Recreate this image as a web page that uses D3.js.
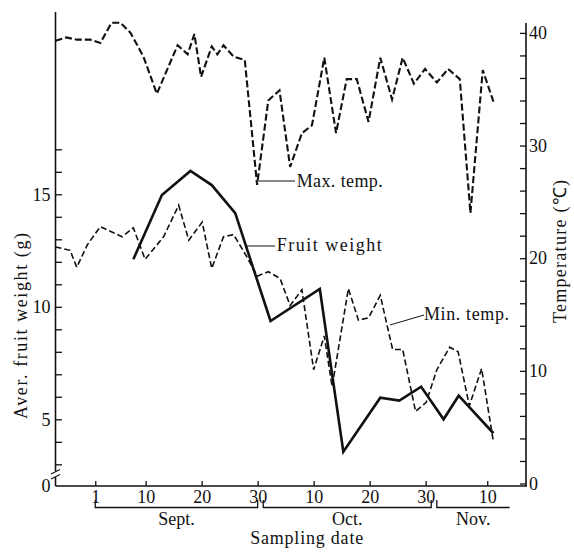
<!DOCTYPE html>
<html>
<head>
<meta charset="utf-8">
<script src="https://cdn.jsdelivr.net/npm/d3@7"></script>
<style>
  html, body { margin: 0; padding: 0; background: #fff; }
  svg { display: block; }
</style>
</head>
<body>
<svg id="chart" width="574" height="553"></svg>
<script>
// ---- data (day numbers: Sept 1 = 1, Oct 1 = 31, Nov 1 = 62) ----
const maxDays = [-6.1,-4.2,-2.3,0.1,1.9,3.9,5.5,7.3,9.6,12.0,15.7,17.5,18.7,19.9,21.8,22.8,23.9,25.7,27.7,29.9,31.9,33.9,35.8,37.9,39.7,41.9,44.0,45.9,47.7,49.8,51.9,54.0,55.9,57.9,59.9,62.0,64.0,66.1,68.0,70.2,72.1];
const maxTemp = [39.3,39.6,39.4,39.4,39.1,40.9,40.9,40.0,37.9,34.6,38.9,38.1,39.9,36.1,38.8,38.1,38.9,37.9,37.6,26.5,34.0,34.9,28.1,31.1,31.8,37.8,31.1,35.9,35.9,32.1,37.8,34.1,37.8,35.5,36.8,35.6,36.8,35.9,24.0,36.7,33.9];

const minDays = [-6.1,-3.5,-2.3,-0.4,1.9,5.8,7.8,9.9,13.2,15.9,17.7,20.1,21.8,23.9,25.7,28.1,29.9,31.9,34.0,35.8,37.9,40.0,41.9,43.3,46.2,48.0,49.8,51.9,54.1,55.9,58.2,60.1,62.0,64.3,65.8,67.8,70.0,72.1];
const minTemp = [21.0,20.7,19.2,21.2,22.8,21.9,22.7,19.9,21.9,24.7,21.6,23.2,19.1,21.9,22.1,20.1,18.4,18.8,18.2,15.8,17.2,10.1,13.1,8.6,17.3,14.5,14.7,16.7,11.9,11.9,6.4,7.2,10.1,12.1,11.7,6.9,10.2,3.7];

const fwDays = [7.8,12.9,18.0,21.8,26.0,32.3,41.1,45.3,51.9,55.3,59.2,63.2,65.9,72.1];
const fruitWeight = [12.11,14.97,16.04,15.41,14.16,9.37,10.79,3.56,5.96,5.83,6.45,5.00,6.05,4.38];

const xTickDays = [1,10,20,30,40,50,60,71];
const xTickLabels = ["1","10","20","30","10","20","30","10"];
const months = ["Sept.","Oct.","Nov."];
const monthStart = [1,31,62];
const monthEnd = [30,61,75];

const weightTicks = [0,3,4,5,6,7,8,9,10,11,12,13,14,15,16,17];
const weightLabels = [0,5,10,15];
const tempTicks = d3.range(0,41,2);
const tempLabels = [0,10,20,30,40];

// ---- layout ----
const svg = d3.select("#chart");
const FONT = "'Liberation Serif','Times New Roman',serif";
const FS = 18;
const INK = "#111";

const x = d3.scaleLinear().domain([-6.1, 78.1]).range([55.5, 527]);
// broken weight axis: 0 sits at the baseline, 3..17 is linear
const yW = d3.scaleLinear().domain([0, 3, 17]).range([486, 464.3, 149.3]);
const yT = d3.scaleLinear().domain([0, 40]).range([483.5, 32.9]);

// ---- axes ----
const gL = svg.append("g").attr("transform", "translate(55.5,0)")
  .call(d3.axisLeft(yW).tickValues(weightTicks).tickSizeInner(-6.5).tickSizeOuter(0).tickPadding(5)
    .tickFormat(d => weightLabels.includes(d) ? d : ""));
gL.select(".domain").remove();
gL.selectAll(".tick").filter(d => d === 0).select("line").remove();

const gR = svg.append("g").attr("transform", "translate(526,0)")
  .call(d3.axisRight(yT).tickValues(tempTicks).tickSizeInner(-6).tickSizeOuter(0).tickPadding(3)
    .tickFormat(d => tempLabels.includes(d) ? d : ""));
gR.select(".domain").remove();

const gB = svg.append("g").attr("transform", "translate(0,486)")
  .call(d3.axisBottom(x).tickValues(xTickDays).tickSizeInner(-5).tickSizeOuter(0).tickPadding(4)
    .tickFormat((d, i) => xTickLabels[i]));
gB.select(".domain").remove();

[gL, gR, gB].forEach(g => {
  g.attr("font-family", FONT).attr("font-size", FS);
  g.selectAll("line").attr("stroke", INK).attr("stroke-width", 1.3);
  g.selectAll("text").attr("fill", INK);
});

// axis lines
const axes = svg.append("g").attr("stroke", INK).attr("stroke-width", 1.6).attr("fill", "none");
axes.append("line").attr("x1", 55.5).attr("x2", 55.5).attr("y1", 12).attr("y2", 471);
axes.append("line").attr("x1", 55.5).attr("x2", 55.5).attr("y1", 477).attr("y2", 486);
axes.append("line").attr("x1", 526).attr("x2", 526).attr("y1", 23).attr("y2", 486);
axes.append("line").attr("x1", 55.5).attr("x2", 527).attr("y1", 486).attr("y2", 486);
// break marks
axes.append("line").attr("x1", 51).attr("x2", 60).attr("y1", 474).attr("y2", 469.5).attr("stroke-width", 1.2);
axes.append("line").attr("x1", 51).attr("x2", 60).attr("y1", 479).attr("y2", 474.5).attr("stroke-width", 1.2);

// month brackets
const br = svg.append("g").attr("stroke", INK).attr("stroke-width", 1.3).attr("fill", "none");
months.forEach((m, i) => {
  const a = x(monthStart[i]), b = x(monthEnd[i]);
  const endTick = i < months.length - 1 ? `V500` : "";
  br.append("path").attr("d", `M${a},500V507.5H${b}${endTick}`);
  svg.append("text").attr("x", (a + b) / 2).attr("y", 525)
    .attr("text-anchor", "middle").attr("font-family", FONT).attr("font-size", FS)
    .attr("fill", INK).text(m);
});

// axis titles
svg.append("text").attr("x", 306.7).attr("y", 543.5).attr("text-anchor", "middle")
  .attr("font-family", FONT).attr("font-size", FS).attr("fill", INK)
  .attr("textLength", 113).attr("lengthAdjust", "spacing").text("Sampling date");
svg.append("text").attr("transform", "translate(26.5,326) rotate(-90)").attr("text-anchor", "middle")
  .attr("font-family", FONT).attr("font-size", FS).attr("fill", INK)
  .attr("textLength", 186).attr("lengthAdjust", "spacing").text("Aver. fruit weight (g)");
svg.append("text").attr("transform", "translate(566,251.5) rotate(-90)").attr("text-anchor", "middle")
  .attr("font-family", FONT).attr("font-size", FS).attr("fill", INK)
  .attr("textLength", 143).attr("lengthAdjust", "spacing").text("Temperature (℃)");

// ---- series ----
const lineT = d3.line().x(d => x(d[0])).y(d => yT(d[1]));
const lineW = d3.line().x(d => x(d[0])).y(d => yW(d[1]));

svg.append("path").datum(maxDays.map((d, i) => [d, maxTemp[i]]))
  .attr("d", lineT).attr("fill", "none").attr("stroke", INK)
  .attr("stroke-width", 2.1).attr("stroke-dasharray", "7,3").attr("stroke-linejoin", "miter");

svg.append("path").datum(minDays.map((d, i) => [d, minTemp[i]]))
  .attr("d", lineT).attr("fill", "none").attr("stroke", INK)
  .attr("stroke-width", 1.6).attr("stroke-dasharray", "6,3").attr("stroke-linejoin", "miter");

svg.append("path").datum(fwDays.map((d, i) => [d, fruitWeight[i]]))
  .attr("d", lineW).attr("fill", "none").attr("stroke", INK)
  .attr("stroke-width", 2.6).attr("stroke-linejoin", "miter");

// ---- annotations ----
const ann = [
  {t: "Max. temp.", lx1: 258, ly1: 181, lx2: 295, ly2: 181, tx: 296.7, ty: 187, w: 86},
  {t: "Fruit weight", lx1: 247, ly1: 246, lx2: 275, ly2: 246, tx: 276.7, ty: 251, w: 105},
  {t: "Min. temp.", lx1: 390, ly1: 325, lx2: 424, ly2: 315, tx: 424, ty: 319.5, w: 85}
];
ann.forEach(a => {
  svg.append("line").attr("x1", a.lx1).attr("y1", a.ly1).attr("x2", a.lx2).attr("y2", a.ly2)
    .attr("stroke", INK).attr("stroke-width", 1);
  svg.append("text").attr("x", a.tx).attr("y", a.ty).attr("font-family", FONT).attr("font-size", FS)
    .attr("fill", INK).attr("textLength", a.w).attr("lengthAdjust", "spacing").text(a.t);
});
</script>
</body>
</html>
